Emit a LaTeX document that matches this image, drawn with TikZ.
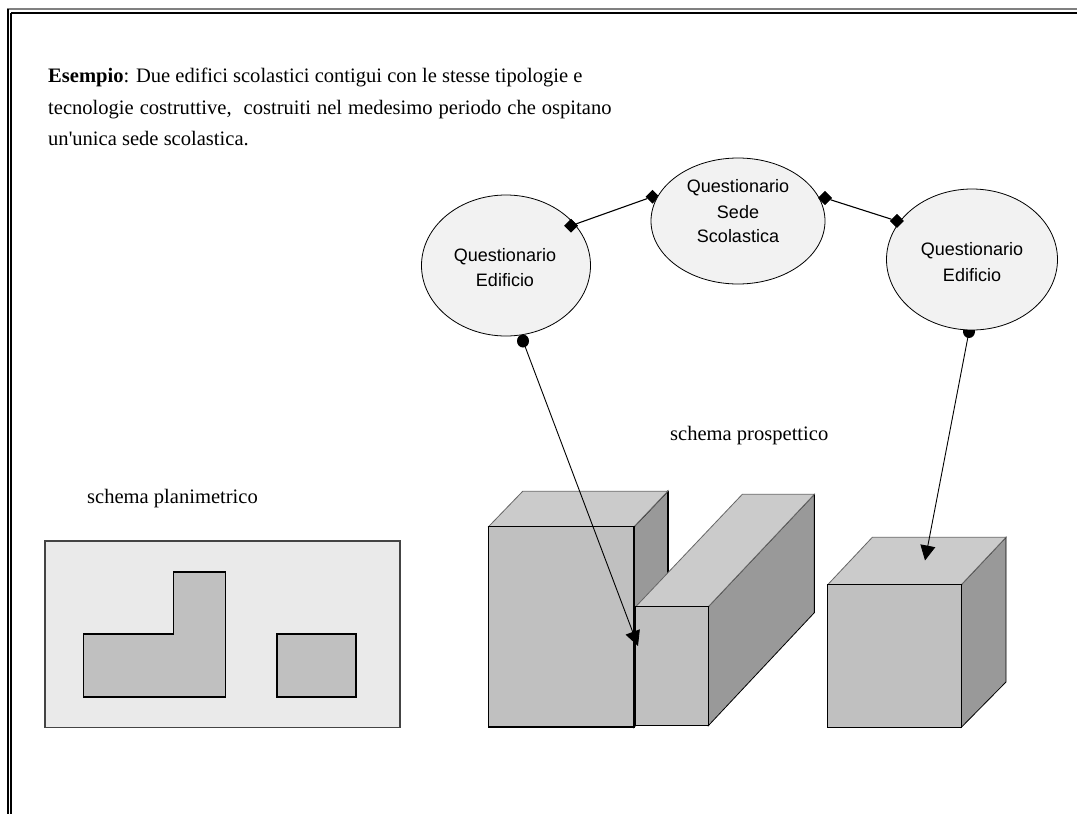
\documentclass[tikz,border=0pt]{standalone}
\usepackage{fontspec}
\setmainfont{Liberation Serif}
\newfontfamily\rawserif{Liberation Serif}
\newfontfamily\labelsans{Liberation Sans}
\usetikzlibrary{shapes.geometric,arrows.meta}
\definecolor{fronte}{HTML}{C0C0C0}
\definecolor{tetto}{HTML}{CBCBCB}
\definecolor{fianco}{HTML}{999999}
\definecolor{pianta}{HTML}{EAEAEA}
\definecolor{bolla}{HTML}{F2F2F2}
\definecolor{bordo}{HTML}{444444}
\tikzset{
  x=1pt,y=-1pt,
  faccia/.style={draw=black,line width=1.2pt,line join=miter},
  bubble/.style={ellipse,draw=black,line width=.8pt,fill=bolla,inner sep=0pt,align=center,font=\labelsans\fontsize{18}{25}\selectfont},
  seriftext/.style={inner sep=0pt,font=\fontsize{20.55}{28}\selectfont},
  rombo/.style={diamond,fill=black,inner sep=0pt,minimum width=14pt,minimum height=14pt},
  pallino/.style={ellipse,fill=black,inner sep=0pt,minimum width=12pt,minimum height=13pt},
  link/.style={draw=black,line width=1.1pt},
  freccia/.style={draw=black,line width=.9pt,-{Triangle[length=15pt,width=15pt]}},
}
\begin{document}
\begin{tikzpicture}
\useasboundingbox (0,0) rectangle (1077,814);
% cornice
\fill[white] (0,0) rectangle (1077,814);
\draw[color=gray,line width=2pt] (7,9) -- (1077,9);
\draw[black,line width=2.4pt] (10.8,13) -- (1077,13);
\draw[black,line width=2.4pt] (8,9) -- (8,814);
\draw[black,line width=2.4pt] (10.8,13) -- (10.8,814);
% testo
\node[seriftext,anchor=base west] (t1) at (48,82.7) {\textbf{Esempio}: Due edifici scolastici contigui con le stesse tipologie e};
\node[seriftext,anchor=base west] (t2) at (48,114.3) {\spaceskip=6pt tecnologie costruttive,\ \ costruiti nel medesimo periodo che ospitano};
\node[seriftext,anchor=base west] (t3) at (48,145.7) {un{\rawserif\fontsize{20.55}{28}\selectfont '}unica sede scolastica.};
\node[seriftext,anchor=base west] (t4) at (87,503.3) {schema planimetrico};
\node[seriftext,anchor=base west] (t5) at (670,440) {schema prospettico};
% pianta
\draw[draw=bordo,fill=pianta,line width=1.5pt] (45,541) rectangle (400,727.5);
\draw[faccia,fill=fronte,line width=1.6pt] (83.3,634) -- (173.3,634) -- (173.3,571.7) -- (225.3,571.7) -- (225.3,696.7) -- (83.3,696.7) -- cycle;
\draw[faccia,fill=fronte,line width=1.6pt] (277,634) rectangle (356,696.7);
% edificio sinistro
\draw[faccia,fill=fianco] (634,526.7) -- (667.7,491.3) -- (667.7,690) -- (634,727) -- cycle;
\draw[black,line width=1.6pt] (667.7,491.3) -- (667.7,575);
\draw[draw=gray!80!black,line width=.8pt,fill=tetto] (488.5,526.7) -- (522.7,491.3) -- (667.7,491.3) -- (634,526.7) -- cycle;
\draw[faccia,fill=fronte,line width=1.3pt] (488.5,526.7) rectangle (634,727);
% edificio centrale
\draw[draw=black,line width=.8pt,fill=fianco] (708.3,606.7) -- (814.3,494.3) -- (814.3,612.7) -- (708.3,725.7) -- cycle;
\draw[black,line width=1.6pt] (814.3,494.3) -- (814.3,612.7);
\draw[draw=gray!80!black,line width=.8pt,fill=tetto] (635.7,606.7) -- (742.3,494.3) -- (814.3,494.3) -- (708.3,606.7) -- cycle;
\draw[faccia,fill=fronte] (635.7,606.7) rectangle (708.3,725.7);
% edificio destro
\draw[draw=black,line width=.8pt,fill=fianco] (961.3,584.7) -- (1006,537.3) -- (1006,682) -- (961.3,727.3) -- cycle;
\draw[draw=gray!80!black,line width=.8pt,fill=tetto] (827.7,584.7) -- (872.3,537.3) -- (1006,537.3) -- (961.3,584.7) -- cycle;
\draw[faccia,fill=fronte] (827.7,584.7) rectangle (961.3,727.3);
% connettori e terminali
\node[pallino] (dotl) at (523,341) {};
\node[pallino] (dotr) at (969,331.5) {};
\coordinate (tipl) at (638,646);
\coordinate (tipr) at (925,560.5);
\node[rombo] (d1) at (571,225.7) {};
\node[rombo] (d2) at (652.5,196.7) {};
\node[rombo] (d3) at (825,198) {};
\node[rombo] (d4) at (897,221) {};
\draw[link] (d1) -- (d2);
\draw[link] (d3) -- (d4);
\draw[freccia] (dotl.center) -- (tipl);
\draw[freccia] (dotr.center) -- (tipr);
% bolle
\node[bubble,minimum width=169pt,minimum height=141pt] (qe1) at (506,265.5) {};
\node[bubble,minimum width=174pt,minimum height=126pt] (qs) at (738,221) {};
\node[bubble,minimum width=171pt,minimum height=141pt] (qe2) at (972,259.5) {};
\node[bubble,draw=none,fill=none,anchor=base] (l1a) at (505,261.7) {Questionario};
\node[bubble,draw=none,fill=none,anchor=base] (l1b) at (505,286.7) {Edificio};
\node[bubble,draw=none,fill=none,anchor=base] (l2a) at (738,192.5) {Questionario};
\node[bubble,draw=none,fill=none,anchor=base] (l2b) at (738,218) {Sede};
\node[bubble,draw=none,fill=none,anchor=base] (l2c) at (738,242.7) {Scolastica};
\node[bubble,draw=none,fill=none,anchor=base] (l3a) at (972,255) {Questionario};
\node[bubble,draw=none,fill=none,anchor=base] (l3b) at (972,281) {Edificio};
\node[rombo] at (d1) {};
\node[rombo] at (d3) {};
\node[rombo] at (d4) {};
\end{tikzpicture}
\end{document}
